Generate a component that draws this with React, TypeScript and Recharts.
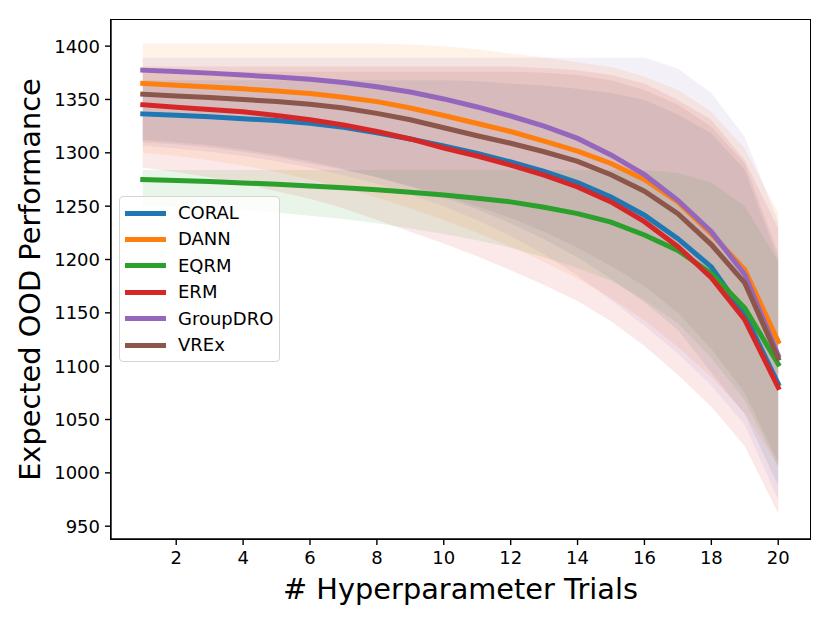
import React from 'react';
import { ComposedChart, Area, Line, XAxis, YAxis } from 'recharts';

const trials = [1, 2, 3, 4, 5, 6, 7, 8, 9, 10, 11, 12, 13, 14, 15, 16, 17, 18, 19, 20];
const xTicks = [2, 4, 6, 8, 10, 12, 14, 16, 18, 20];
const yTicks = [950, 1000, 1050, 1100, 1150, 1200, 1250, 1300, 1350, 1400];

const seriesNames = ['CORAL', 'DANN', 'EQRM', 'ERM', 'GroupDRO', 'VREx'];
const seriesColors = ['#1f77b4', '#ff7f0e', '#2ca02c', '#d62728', '#9467bd', '#8c564b'];

const coralMean = [1336.5, 1335.2, 1333.8, 1332, 1330.2, 1327.8, 1324, 1318.8, 1313, 1306.5, 1299.5, 1291.5, 1282.5, 1272, 1258.5, 1241.5, 1219.5, 1193, 1148.5, 1083.5];
const dannMean = [1365, 1363.3, 1361.7, 1360, 1358, 1355.5, 1352, 1348, 1342, 1335, 1327.5, 1320, 1311, 1301.5, 1290, 1275, 1254, 1224, 1190.5, 1123];
const eqrmMean = [1275, 1274, 1273, 1271.8, 1270.5, 1269, 1267.3, 1265.3, 1263, 1260.5, 1257.5, 1254, 1249, 1243, 1235, 1223, 1208.5, 1187, 1154.5, 1102];
const ermMean = [1345, 1342.7, 1340.6, 1338.5, 1335, 1331, 1326, 1320, 1313, 1304.5, 1297, 1288.5, 1279, 1268, 1254, 1235.5, 1212, 1183, 1143.5, 1080];
const groupdroMean = [1377.5, 1376.2, 1374.7, 1373, 1371, 1369, 1366, 1362, 1357, 1350.5, 1343, 1334.5, 1325, 1313.5, 1298, 1279.5, 1255.5, 1226, 1186, 1110];
const vrexMean = [1355, 1353.3, 1351.8, 1350, 1348, 1345.5, 1342, 1337, 1331, 1323.5, 1316, 1309, 1301, 1292, 1279.5, 1264, 1243, 1214, 1178, 1107.5];

const coralLow = [1312, 1310, 1307, 1303, 1298, 1292, 1285, 1277, 1268, 1258, 1247, 1234, 1219, 1202, 1182, 1160, 1134, 1094, 1055, 988];
const coralHigh = [1368, 1368, 1368, 1368, 1368, 1368, 1368, 1368, 1368, 1368, 1367, 1365, 1363, 1360, 1356, 1349.5, 1336, 1318, 1284, 1200];
const dannLow = [1300, 1297, 1293, 1288, 1282, 1275, 1267, 1258, 1248, 1237, 1225, 1212, 1198, 1182, 1164, 1143, 1118, 1090, 1056, 1006];
const dannHigh = [1402.5, 1402.5, 1402.5, 1402.5, 1402.5, 1402.5, 1402.5, 1402.5, 1401.5, 1400, 1397, 1393, 1389.5, 1385, 1380.5, 1371.5, 1359, 1338.5, 1304, 1243.5];
const eqrmLow = [1250, 1249, 1248, 1246, 1244, 1241, 1238, 1234, 1229, 1224, 1218, 1211, 1202, 1192, 1180, 1162, 1140, 1108, 1068, 1006];
const eqrmHigh = [1284, 1284, 1284, 1284, 1284, 1284, 1284, 1284, 1284, 1284, 1284, 1284, 1284, 1284, 1284, 1284, 1281, 1272, 1250, 1198];
const ermLow = [1286, 1282, 1277, 1271, 1264, 1257, 1248, 1237, 1226, 1215, 1203, 1190, 1176, 1161, 1142, 1119, 1092, 1062, 1025, 962];
const ermHigh = [1381, 1381, 1381, 1381, 1381, 1381, 1381, 1381, 1381, 1381, 1381, 1381, 1379.5, 1377.5, 1373, 1365, 1349.5, 1331, 1293, 1229];
const groupdroLow = [1307, 1304, 1301, 1297, 1292, 1286, 1279, 1271, 1261, 1250, 1237, 1222, 1205, 1185, 1162, 1138, 1112, 1082, 1045, 975];
const groupdroHigh = [1389, 1389, 1389, 1389, 1389, 1389, 1389, 1389, 1389, 1389, 1389, 1389, 1389, 1389, 1389, 1389, 1379, 1356, 1315, 1235];
const vrexLow = [1310, 1308, 1305, 1301, 1296, 1290, 1284, 1277, 1269, 1260, 1250, 1239, 1226, 1211, 1194, 1175, 1150, 1116, 1075, 1010];
const vrexHigh = [1376, 1376, 1376, 1376, 1376, 1376, 1376, 1376, 1376, 1376, 1376, 1376, 1375, 1373, 1368, 1359, 1345, 1324.5, 1290, 1206];

const means = [coralMean, dannMean, eqrmMean, ermMean, groupdroMean, vrexMean];
const lows = [coralLow, dannLow, eqrmLow, ermLow, groupdroLow, vrexLow];
const highs = [coralHigh, dannHigh, eqrmHigh, ermHigh, groupdroHigh, vrexHigh];

const data = trials.map((t, i) => {
  const row: Record<string, any> = { trial: t };
  seriesNames.forEach((name, s) => {
    row[name] = means[s][i];
    row[name + '_band'] = [lows[s][i], highs[s][i]];
  });
  return row;
});

const FONT = '"DejaVu Sans", sans-serif';
const W = 830;
const H = 623;
const M = { top: 20, right: 20, left: 0, bottom: 0 };
const Y_AXIS_W = 111;
const X_AXIS_H = 84;
const plotLeft = M.left + Y_AXIS_W;
const plotTop = M.top;
const plotW = W - plotLeft - M.right;
const plotH = H - M.top - X_AXIS_H;

export default function App() {
  return (
    <div style={{ position: 'absolute', left: 0, top: 0, width: W, height: H, background: '#fff', fontFamily: FONT }}>
      <ComposedChart width={W} height={H} data={data} margin={M}>
        <XAxis
          dataKey="trial"
          type="number"
          domain={[0.05, 20.95]}
          ticks={xTicks}
          allowDataOverflow
          height={X_AXIS_H}
          tickSize={6}
          tickMargin={6}
          stroke="#000"
          strokeWidth={1.4}
          tick={{ fill: '#000', fontSize: 18, fontFamily: FONT }}
        />
        <YAxis
          type="number"
          domain={[938, 1424.5]}
          ticks={yTicks}
          allowDataOverflow
          width={Y_AXIS_W}
          tickSize={6}
          tickMargin={5}
          stroke="#000"
          strokeWidth={1.4}
          tick={{ fill: '#000', fontSize: 18, fontFamily: FONT }}
        />
        {seriesNames.map((name, s) => (
          <Area
            key={name + '_band'}
            dataKey={name + '_band'}
            type="linear"
            stroke="none"
            fill={seriesColors[s]}
            fillOpacity={0.1}
            isAnimationActive={false}
            legendType="none"
          />
        ))}
        {seriesNames.map((name, s) => (
          <Line
            key={name}
            dataKey={name}
            type="linear"
            stroke={seriesColors[s]}
            strokeWidth={5}
            strokeLinecap="square"
            dot={false}
            activeDot={false}
            isAnimationActive={false}
          />
        ))}
      </ComposedChart>
      {/* axes frame */}
      <div
        style={{
          position: 'absolute',
          left: plotLeft - 0.7,
          top: plotTop - 0.7,
          width: plotW,
          height: plotH,
          border: '1.4px solid #000',
          pointerEvents: 'none',
        }}
      />
      {/* axis titles */}
      <svg width={W} height={H} style={{ position: 'absolute', left: 0, top: 0, pointerEvents: 'none' }}>
        <text x={plotLeft + plotW / 2} y={599} textAnchor="middle" fontSize={28.8} fontFamily={FONT} fill="#000">
          # Hyperparameter Trials
        </text>
        <text
          x={40}
          y={plotTop + plotH / 2}
          textAnchor="middle"
          fontSize={28.8}
          fontFamily={FONT}
          fill="#000"
          transform={`rotate(-90, 40, ${plotTop + plotH / 2})`}
        >
          Expected OOD Performance
        </text>
      </svg>
      {/* legend */}
      <div
        style={{
          position: 'absolute',
          left: 119,
          top: 196,
          width: 159,
          height: 164,
          border: '1px solid #d4d4d4',
          borderRadius: 4,
          background: 'rgba(255,255,255,0.8)',
          boxSizing: 'content-box',
        }}
      >
        {seriesNames.map((name, s) => (
          <div
            key={name}
            style={{
              position: 'absolute',
              left: 0,
              top: 3 + s * 26.4,
              height: 26,
              width: 159,
              display: 'flex',
              alignItems: 'center',
            }}
          >
            <div style={{ marginLeft: 5, width: 41, height: 5, background: seriesColors[s] }} />
            <span style={{ marginLeft: 12, fontSize: 18, fontFamily: FONT, color: '#000', lineHeight: '26px' }}>{name}</span>
          </div>
        ))}
      </div>
    </div>
  );
}
